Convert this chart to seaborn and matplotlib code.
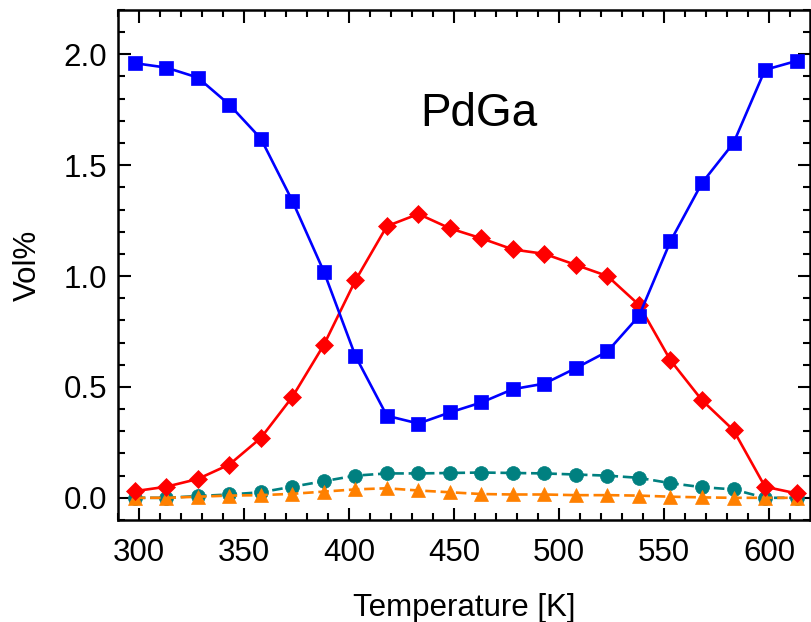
import matplotlib
matplotlib.use("Agg")
import matplotlib.pyplot as plt
import seaborn as sns
import numpy as np
import pandas as pd
from matplotlib.ticker import MultipleLocator, FormatStrFormatter

temperature = [298, 313, 328, 343, 358, 373, 388, 403, 418, 433, 448, 463,
               478, 493, 508, 523, 538, 553, 568, 583, 598, 613]
blue_vals = [1.96, 1.94, 1.895, 1.773, 1.62, 1.339, 1.02, 0.64, 0.37, 0.335,
             0.385, 0.43, 0.49, 0.515, 0.585, 0.66, 0.82, 1.157, 1.42, 1.60,
             1.93, 1.97]
red_vals = [0.03, 0.05, 0.085, 0.15, 0.27, 0.455, 0.69, 0.98, 1.225, 1.28,
            1.215, 1.17, 1.12, 1.10, 1.05, 1.00, 0.87, 0.62, 0.44, 0.305,
            0.05, 0.02]
teal_vals = [0.0, 0.0, 0.008, 0.015, 0.025, 0.05, 0.075, 0.10, 0.11, 0.11,
             0.112, 0.114, 0.112, 0.11, 0.105, 0.10, 0.09, 0.066, 0.048, 0.038,
             0.0, 0.0]
orange_vals = [0.0, 0.0, 0.005, 0.01, 0.012, 0.018, 0.028, 0.038, 0.043, 0.033,
               0.025, 0.017, 0.015, 0.015, 0.012, 0.012, 0.01, 0.005, 0.002,
               0.0, 0.0, 0.0]

sns.set_style("white")
plt.rcParams['font.family'] = ['Liberation Sans', 'DejaVu Sans']
plt.rcParams['text.color'] = 'black'
plt.rcParams['axes.labelcolor'] = 'black'

fig = plt.figure(figsize=(8.11, 6.22), dpi=100)
ax = fig.add_axes([0.1455, 0.164, 0.8535, 0.82])

series = [
    (teal_vals, '#008080', 'o', 10, (0, (4, 1.8))),
    (orange_vals, '#FF8000', '^', 10.5, (0, (4, 1.8))),
    (red_vals, '#FF0000', 'D', 9, '-'),
    (blue_vals, '#0000FF', 's', 9.5, '-'),
]
for vals, col, mk, ms, ls in series:
    df = pd.DataFrame({'T': temperature, 'v': vals})
    sns.lineplot(data=df, x='T', y='v', ax=ax, color=col, marker=mk,
                 markersize=ms, markeredgecolor=col, markeredgewidth=0.5,
                 linestyle=ls, linewidth=1.9, estimator=None, sort=False)

ax.set_xlim(290, 619.5)
ax.set_ylim(-0.1, 2.2)
ax.xaxis.set_major_locator(MultipleLocator(50))
ax.xaxis.set_minor_locator(MultipleLocator(10))
ax.yaxis.set_major_locator(MultipleLocator(0.5))
ax.yaxis.set_minor_locator(MultipleLocator(0.1))
ax.yaxis.set_major_formatter(FormatStrFormatter('%.1f'))

ax.tick_params(which='both', direction='in', top=True, right=True,
               bottom=True, left=True, width=1.5, colors='black',
               labelcolor='black')
ax.tick_params(which='major', length=9, labelsize=22.5)
ax.tick_params(axis='x', which='major', pad=13)
ax.tick_params(axis='y', which='major', pad=8)
ax.tick_params(which='minor', length=5)
for s in ax.spines.values():
    s.set_linewidth(1.8)
    s.set_color('black')

ax.set_xlabel('Temperature [K]', fontsize=22.5, labelpad=18)
ax.set_ylabel('Vol%', fontsize=22.5, labelpad=15)
ax.text(462, 1.676, 'PdGa', fontsize=33, ha='center', va='baseline')

fig.savefig('out.png', dpi=100)
